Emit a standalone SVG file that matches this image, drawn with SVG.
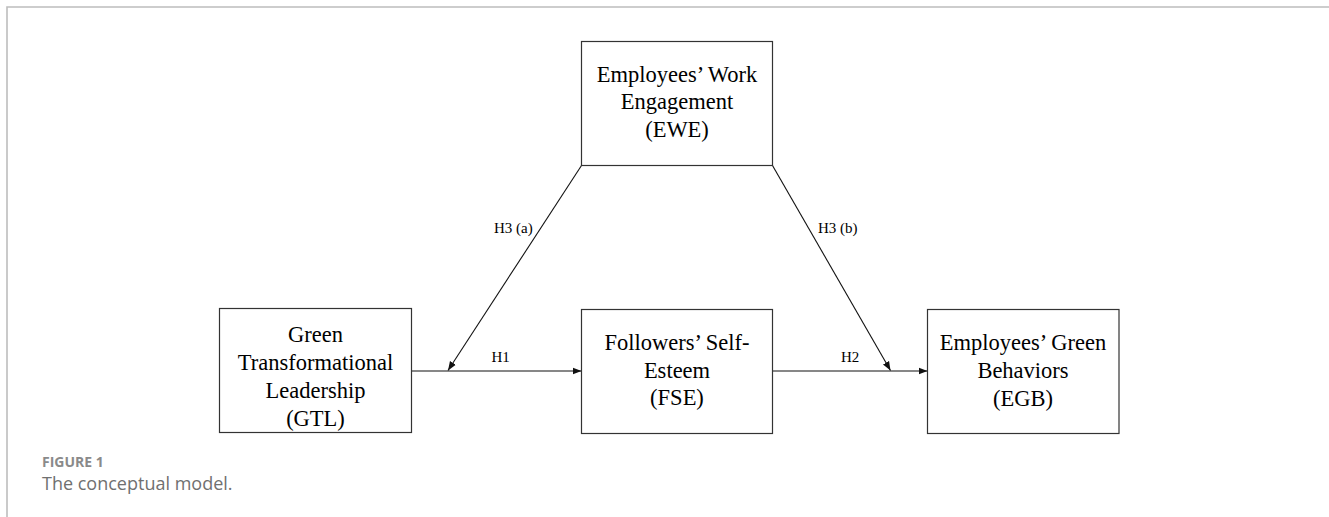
<svg xmlns="http://www.w3.org/2000/svg" width="1329" height="517" viewBox="0 0 1329 517">
  <style>
    .box { fill: #ffffff; stroke: #333333; stroke-width: 1.2; }
    .label { font-family: "Liberation Serif", "Times New Roman", serif; font-size: 22.5px; fill: #000000; text-anchor: middle; }
    .hyp { font-family: "Liberation Serif", "Times New Roman", serif; font-size: 15px; fill: #000000; }
    .link { fill: none; stroke: #111111; stroke-width: 1.1; }
    .frame { fill: none; stroke: #bdbdbd; stroke-width: 1.6; }
    .fig-num { font-family: "Open Sans", "Liberation Sans", sans-serif; font-size: 14px; font-weight: 700; fill: #8a8a8a; }
    .fig-title { font-family: "Open Sans", "Liberation Sans", sans-serif; font-size: 18px; fill: #707070; }
  </style>
  <defs>
    <marker id="arrow" markerUnits="userSpaceOnUse" markerWidth="10" markerHeight="8" refX="9" refY="4" orient="auto">
      <path d="M0,0.5 L9,4 L0,7.5 Z" fill="#111111"/>
    </marker>
  </defs>

  <rect width="1329" height="517" fill="#ffffff"/>

  <!-- panel frame -->
  <path class="frame" d="M7 517 L7 7 L1329 7"/>

  <!-- connectors -->
  <g id="connectors">
    <line class="link" x1="411.5" y1="371" x2="581.5" y2="371" marker-end="url(#arrow)"/>
    <line class="link" x1="772.5" y1="371" x2="927.5" y2="371" marker-end="url(#arrow)"/>
    <line class="link" x1="581.5" y1="165.5" x2="448" y2="370.5" marker-end="url(#arrow)"/>
    <line class="link" x1="772.5" y1="165.5" x2="890.5" y2="370.5" marker-end="url(#arrow)"/>
    <text class="hyp" x="494" y="232.5">H3 (a)</text>
    <text class="hyp" x="818" y="232.5">H3 (b)</text>
    <text class="hyp" x="491.5" y="362">H1</text>
    <text class="hyp" x="841" y="362">H2</text>
  </g>

  <!-- nodes -->
  <g id="ewe">
    <rect class="box" x="581.5" y="41.5" width="191" height="124"/>
    <text class="label" x="677" y="81.5">Employees’ Work</text>
    <text class="label" x="677" y="109">Engagement</text>
    <text class="label" x="677" y="136.5">(EWE)</text>
  </g>

  <g id="gtl">
    <rect class="box" x="219.5" y="308.5" width="192" height="124"/>
    <text class="label" x="315.5" y="341.5">Green</text>
    <text class="label" x="315.5" y="370">Transformational</text>
    <text class="label" x="315.5" y="398">Leadership</text>
    <text class="label" x="315.5" y="426">(GTL)</text>
  </g>

  <g id="fse">
    <rect class="box" x="581.5" y="309.5" width="191" height="124"/>
    <text class="label" x="677" y="349.5">Followers’ Self-</text>
    <text class="label" x="677" y="377.5">Esteem</text>
    <text class="label" x="677" y="405">(FSE)</text>
  </g>

  <g id="egb">
    <rect class="box" x="927.5" y="309.5" width="191.5" height="124"/>
    <text class="label" x="1023" y="349.5">Employees’ Green</text>
    <text class="label" x="1023" y="377.5">Behaviors</text>
    <text class="label" x="1023" y="405.5">(EGB)</text>
  </g>

  <!-- caption -->
  <text class="fig-num" x="42" y="467">FIGURE 1</text>
  <text class="fig-title" x="42" y="489.5">The conceptual model.</text>
</svg>
